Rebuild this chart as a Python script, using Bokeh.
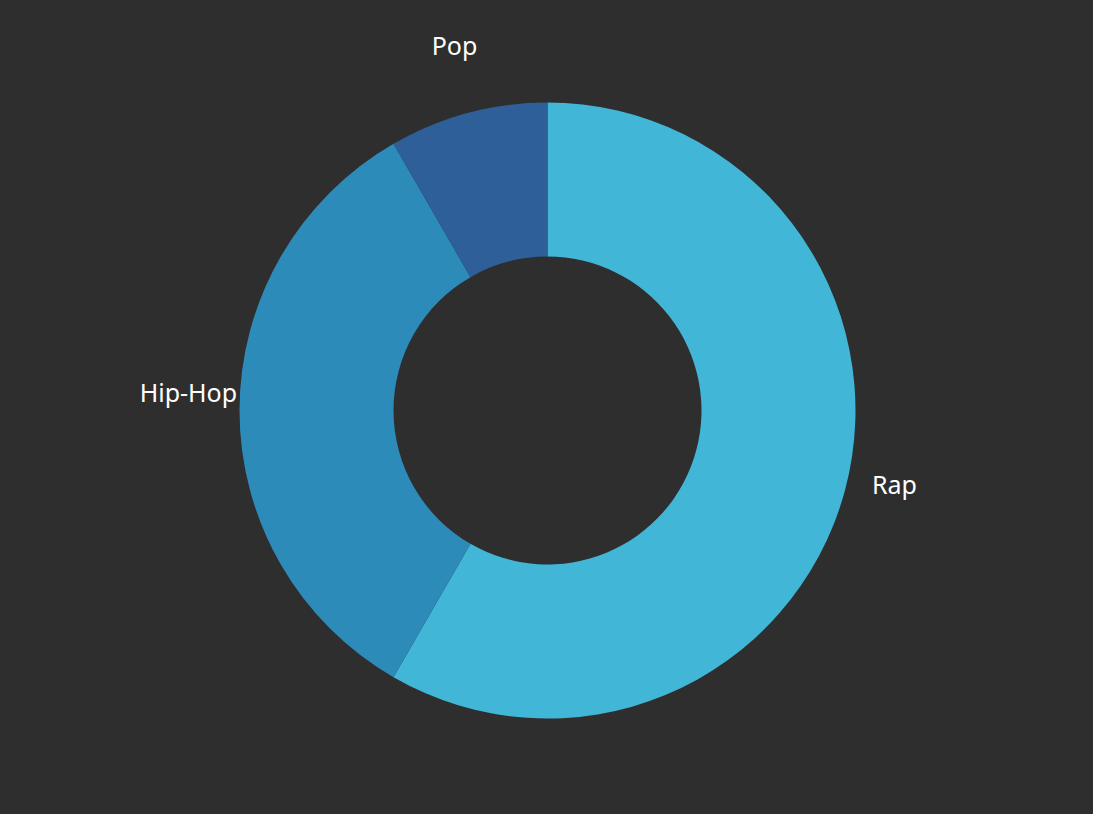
import math
from bokeh.plotting import figure
from bokeh.models import Range1d, ColumnDataSource
from bokeh.core.properties import value
from bokeh.embed import file_html
from bokeh.resources import INLINE

categories = ["Rap", "Hip-Hop", "Pop"]
values = [7, 4, 1]
colors = ["#41B6D6", "#2D8BBA", "#2E5F98"]

W, H = 1093, 814
cx, cy = 547, H - 410
R_out, R_in = 308, 154
R_label = R_out * 1.166

total = sum(values)
starts, ends, lx, ly = [], [], [], []
cum = 0.0
for v in values:
    a0 = cum / total * 2 * math.pi
    cum += v
    a1 = cum / total * 2 * math.pi
    # clockwise from 12 o'clock
    starts.append(math.pi / 2 - a1)
    ends.append(math.pi / 2 - a0)
    mid = (a0 + a1) / 2
    lx.append(cx + R_label * math.sin(mid))
    ly.append(cy + R_label * math.cos(mid))

src = ColumnDataSource(dict(cat=categories, val=values, color=colors,
                            start=starts, end=ends))
lab = ColumnDataSource(dict(text=categories, x=lx, y=ly))

p = figure(width=W, height=H, x_range=Range1d(0, W), y_range=Range1d(0, H),
           output_backend="svg", toolbar_location=None, min_border=0,
           background_fill_color="#2E2E2E", border_fill_color="#2E2E2E",
           outline_line_color=None)
p.axis.visible = False
p.grid.visible = False

p.annular_wedge(x=cx, y=cy, inner_radius=R_in, outer_radius=R_out,
                start_angle="start", end_angle="end", fill_color="color",
                line_color=None, source=src)

p.text(x="x", y="y", text="text", source=lab, text_align="center",
       text_baseline="bottom", text_color="#FFFFFF", y_offset=-2,
       text_font=value("Noto Sans"), text_font_size="25px")

html = file_html(p, INLINE)
html = html.replace("</head>",
                    "<style>html,body{margin:0;padding:0;background:#2E2E2E;}</style></head>", 1)
open("out.html", "w").write(html)
